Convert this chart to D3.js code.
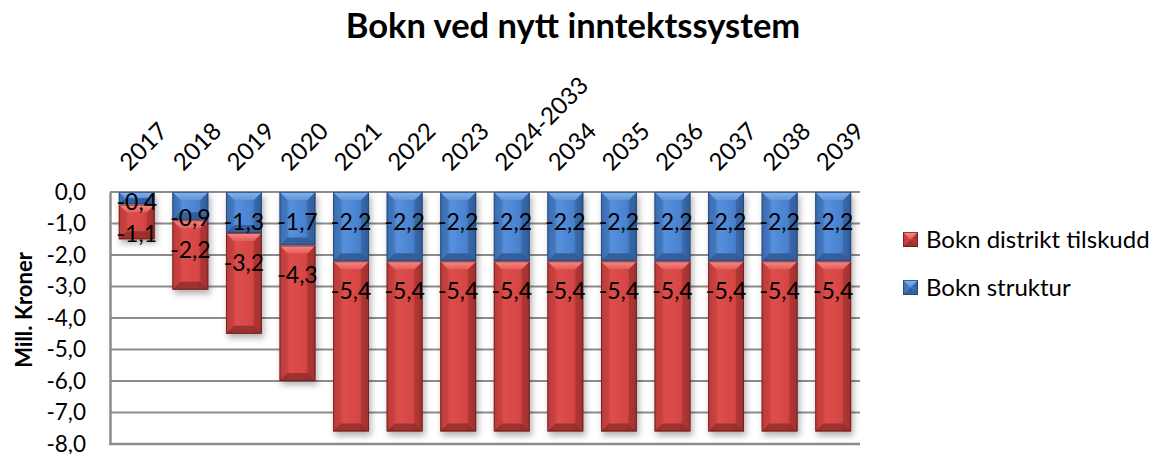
<!DOCTYPE html>
<html>
<head>
<meta charset="utf-8">
<script src="https://cdn.jsdelivr.net/npm/d3@7/dist/d3.min.js"></script>
<style>
  html, body { margin: 0; padding: 0; background: #fff; }
  svg { display: block; font-family: Lato, "Open Sans", sans-serif; }
</style>
</head>
<body>
<svg id="chart" width="1153" height="454"></svg>
<script>
// Categories and series (Mill. kroner)
const categories = ["2017", "2018", "2019", "2020", "2021", "2022", "2023", "2024-2033",
                    "2034", "2035", "2036", "2037", "2038", "2039"];
const strukturValues = [-0.4, -0.9, -1.3, -1.7, -2.2, -2.2, -2.2, -2.2, -2.2, -2.2, -2.2, -2.2, -2.2, -2.2];
const distriktValues = [-1.1, -2.2, -3.2, -4.3, -5.4, -5.4, -5.4, -5.4, -5.4, -5.4, -5.4, -5.4, -5.4, -5.4];
const yTickValues = [0, -1, -2, -3, -4, -5, -6, -7, -8];
const seriesNames = ["Bokn distrikt tilskudd", "Bokn struktur"];
const titleText = "Bokn ved nytt inntektssystem";
const yAxisTitle = "Mill. Kroner";

const fmt = v => d3.format(".1f")(v).replace("−", "-").replace(".", ",");

const svg = d3.select("#chart");
const plot = { left: 110, right: 860, top: 192, bottom: 444 };

const x = d3.scaleBand().domain(categories).range([plot.left, plot.right])
  .paddingInner(0.33).paddingOuter(0.165);
const y = d3.scaleLinear().domain([-8, 0]).range([plot.bottom, plot.top]);

// palettes for the bevelled bars
const palettes = {
  blue: { id: "blue", edge: "#3462a2", mid: "#4a82cf", light: "#5690dc", top1: "#86b4f0", top2: "#5f95da",
          side: "#3f72b8", bottom: "#2d568f", stroke: "#213f69" },
  red:  { id: "red", edge: "#b03634", mid: "#d64644", light: "#dc4e4c", top1: "#f58c89", top2: "#e35c59",
          side: "#c43f3d", bottom: "#8e2a28", stroke: "#5e1c1b" }
};

const defs = svg.append("defs");
Object.values(palettes).forEach(p => {
  const g = defs.append("linearGradient").attr("id", "body-" + p.id)
    .attr("x1", "0").attr("x2", "1").attr("y1", "0").attr("y2", "0");
  g.append("stop").attr("offset", "0").attr("stop-color", p.edge);
  g.append("stop").attr("offset", "0.3").attr("stop-color", p.light);
  g.append("stop").attr("offset", "0.7").attr("stop-color", p.mid);
  g.append("stop").attr("offset", "1").attr("stop-color", p.edge);
  const t = defs.append("linearGradient").attr("id", "top-" + p.id)
    .attr("x1", "0").attr("x2", "0").attr("y1", "0").attr("y2", "1");
  t.append("stop").attr("offset", "0").attr("stop-color", p.top1);
  t.append("stop").attr("offset", "1").attr("stop-color", p.top2);
});
const shadow = defs.append("filter").attr("id", "shadow")
  .attr("x", "-20%").attr("y", "-10%").attr("width", "150%").attr("height", "130%");
shadow.append("feDropShadow").attr("dx", 2).attr("dy", 4).attr("stdDeviation", 3)
  .attr("flood-color", "#000").attr("flood-opacity", 0.3);

// title
svg.append("text").attr("x", 573).attr("y", 38).attr("text-anchor", "middle")
  .attr("font-size", 34.5).attr("font-weight", "bold").attr("fill", "#000").text(titleText);

// gridlines
svg.append("g").selectAll("line").data(yTickValues.slice(0, -1)).join("line")
  .attr("x1", plot.left).attr("x2", plot.right)
  .attr("y1", d => y(d)).attr("y2", d => y(d))
  .attr("stroke", "#8c8c8c").attr("stroke-width", 2);

// y axis
const yAxis = d3.axisLeft(y).tickValues(yTickValues).tickFormat(fmt).tickSize(0).tickPadding(24);
const yg = svg.append("g").attr("transform", `translate(${plot.left},0)`).call(yAxis);
yg.select(".domain").attr("stroke", "#8c8c8c").attr("stroke-width", 2.5);
yg.selectAll("text").attr("font-size", 22.5).attr("fill", "#000").attr("font-family", "Lato, sans-serif");

// bottom frame line
svg.append("line").attr("x1", plot.left - 1).attr("x2", plot.right)
  .attr("y1", y(-8)).attr("y2", y(-8)).attr("stroke", "#8c8c8c").attr("stroke-width", 2.5);

// y axis title
svg.append("text").attr("transform", `translate(32,${(plot.top + plot.bottom) / 2 - 8}) rotate(-90)`)
  .attr("text-anchor", "middle").attr("font-size", 22).attr("font-weight", "bold").text(yAxisTitle);

// x labels (top, rotated)
svg.append("g").selectAll("text").data(categories).join("text")
  .attr("transform", d => `translate(${x(d) + x.bandwidth() / 2 - 7},172) rotate(-45)`)
  .attr("text-anchor", "start").attr("font-size", 24).text(d => d);

// bevelled segment
function drawSegment(g, x0, w, yTop, yBot, p) {
  const h = yBot - yTop;
  if (h <= 0) return;
  const b = Math.min(8, h / 2, w / 2);
  const x1 = x0 + w;
  g.append("rect").attr("x", x0).attr("y", yTop).attr("width", w).attr("height", h)
    .attr("fill", `url(#body-${p.id})`);
  g.append("polygon").attr("points", [[x0, yTop], [x0 + b, yTop + b], [x0 + b, yBot - b], [x0, yBot]].join(" "))
    .attr("fill", p.side).attr("opacity", 0.6);
  g.append("polygon").attr("points", [[x1, yTop], [x1 - b, yTop + b], [x1 - b, yBot - b], [x1, yBot]].join(" "))
    .attr("fill", p.bottom).attr("opacity", 0.45);
  g.append("polygon").attr("points", [[x0, yTop], [x1, yTop], [x1 - b, yTop + b], [x0 + b, yTop + b]].join(" "))
    .attr("fill", `url(#top-${p.id})`);
  g.append("polygon").attr("points", [[x0, yBot], [x1, yBot], [x1 - b, yBot - b], [x0 + b, yBot - b]].join(" "))
    .attr("fill", p.bottom).attr("opacity", 0.8);
  g.append("rect").attr("x", x0 + 0.5).attr("y", yTop + 0.5).attr("width", w - 1).attr("height", h - 1)
    .attr("fill", "none").attr("stroke", p.stroke).attr("stroke-width", 1).attr("opacity", 0.7);
}

const bars = svg.append("g");
categories.forEach((c, i) => {
  const s = strukturValues[i], d = distriktValues[i];
  const g = bars.append("g").attr("filter", "url(#shadow)");
  const x0 = x(c), w = x.bandwidth();
  drawSegment(g, x0, w, y(0), y(s), palettes.blue);
  drawSegment(g, x0, w, y(s), y(s + d), palettes.red);
});

// value labels, placed just below the top of each segment
const labels = svg.append("g").attr("font-size", 23).attr("text-anchor", "middle");
function labelY(start, value) {
  const len = Math.abs(value);
  return y(start - Math.min(0.93, len - 0.08));
}
categories.forEach((c, i) => {
  const s = strukturValues[i], d = distriktValues[i];
  const cx = x(c) + x.bandwidth() / 2;
  labels.append("text").attr("x", cx).attr("y", labelY(0, s)).attr("dy", "0.36em").text(fmt(s));
  labels.append("text").attr("x", cx).attr("y", labelY(s, d)).attr("dy", "0.36em").text(fmt(d));
});

// legend
const legend = svg.append("g");
[["red", seriesNames[0], 232], ["blue", seriesNames[1], 280]].forEach(([key, name, ly]) => {
  const g = legend.append("g");
  drawSegment(g, 903, 15, ly, ly + 15, palettes[key]);
  legend.append("text").attr("x", 926).attr("y", ly + 16).attr("font-size", 24).text(name);
});
</script>
</body>
</html>
